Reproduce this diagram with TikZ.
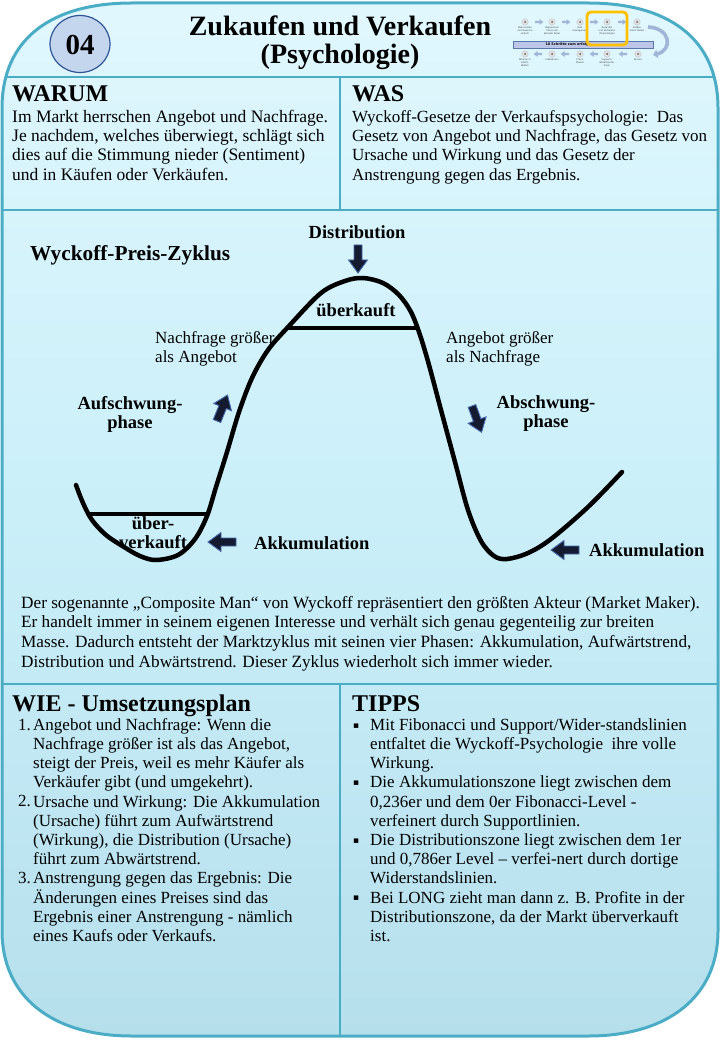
\documentclass[tikz,border=0pt]{standalone}
\usepackage{fontspec}
\setmainfont{Liberation Serif}
\newfontfamily\dejavu{DejaVu Sans}
\usetikzlibrary{arrows.meta}
\definecolor{frameC}{RGB}{75,172,198}
\definecolor{topC}{RGB}{224,247,253}
\definecolor{midC}{RGB}{202,239,249}
\definecolor{botC}{RGB}{182,223,236}
\definecolor{circF}{RGB}{196,214,238}
\definecolor{circD}{RGB}{47,85,151}
\definecolor{arrF}{RGB}{20,26,48}
\definecolor{arrD}{RGB}{70,105,170}
\definecolor{orangeC}{RGB}{255,192,0}
\definecolor{barF}{RGB}{190,198,232}
\definecolor{miniC}{RGB}{160,182,215}
\newcommand\blockarrow[4]{\begin{scope}[shift={(#2)},rotate=#3,scale=#1]
  \path[#4] (0,-4) -- (15,-4) -- (15,-9.5) -- (28,0) -- (15,9.5) -- (15,4) -- (0,4) -- cycle;
\end{scope}}
\tikzset{
  bigarrow/.style={fill=arrF, draw=arrD, line width=0.9pt},
  miniarrow/.style={fill=miniC, draw=none},
  divider/.style={draw=frameC, line width=2.6pt},
  bodytxt/.style={font=\fontsize{17.5}{19.3}\selectfont, align=left, anchor=north west, inner sep=0pt},
  listtxt/.style={font=\fontsize{17}{19.2}\selectfont, align=left, anchor=north west, inner sep=0pt},
  paratxt/.style={font=\fontsize{17.2}{19.7}\selectfont, align=left, anchor=north west, inner sep=0pt},
  headtxt/.style={font=\fontsize{24}{26}\selectfont\bfseries, anchor=base west, inner sep=0pt},
  numtxt/.style={font=\fontsize{17}{19.2}\selectfont, anchor=base west, inner sep=0pt},
  bullettxt/.style={font=\dejavu\fontsize{9}{10}\selectfont, anchor=base west, inner sep=0pt},
  chartlbl/.style={font=\fontsize{18.5}{19}\selectfont\bfseries, inner sep=0pt, align=center},
  chartreg/.style={font=\fontsize{17}{18.5}\selectfont, inner sep=0pt, align=left, anchor=west},
  minilbl/.style={font=\dejavu\fontsize{2.3}{2.8}\selectfont, inner sep=0pt, align=center, anchor=north, text=black!75},
  minicirc/.style={circle, fill=gray!22, draw=gray!55, line width=0.3pt, minimum size=6.5pt, inner sep=0pt},
}
\begin{document}
\begin{tikzpicture}[x=1pt,y=-1pt]
\useasboundingbox (0,0) rectangle (720,1040);
% card background
\path[top color=topC, bottom color=botC, middle color=midC]
  (2,108) .. controls (2,40) and (50,3) .. (132,3) -- (588,3)
  .. controls (670,3) and (718,40) .. (718,108) -- (718,931)
  .. controls (718,995) and (670,1036) .. (588,1036) -- (132,1036)
  .. controls (50,1036) and (2,995) .. (2,931) -- cycle;
\begin{scope}
  \clip (2,108) .. controls (2,40) and (50,3) .. (132,3) -- (588,3)
  .. controls (670,3) and (718,40) .. (718,108) -- (718,931)
  .. controls (718,995) and (670,1036) .. (588,1036) -- (132,1036)
  .. controls (50,1036) and (2,995) .. (2,931) -- cycle;
  \coordinate (s1l) at (0,77); \coordinate (s1r) at (720,77);
  \coordinate (s2l) at (0,210); \coordinate (s2r) at (720,210);
  \coordinate (s3l) at (0,684); \coordinate (s3r) at (720,684);
  \coordinate (v1t) at (340,77); \coordinate (v1b) at (340,210);
  \coordinate (v2t) at (340,684); \coordinate (v2b) at (340,1040);
  \draw[divider] (s1l) -- (s1r);
  \draw[divider] (s2l) -- (s2r);
  \draw[divider] (s3l) -- (s3r);
  \draw[divider] (v1t) -- (v1b);
  \draw[divider] (v2t) -- (v2b);
\end{scope}
\draw[frameC, line width=3pt]
  (2,108) .. controls (2,40) and (50,3) .. (132,3) -- (588,3)
  .. controls (670,3) and (718,40) .. (718,108) -- (718,931)
  .. controls (718,995) and (670,1036) .. (588,1036) -- (132,1036)
  .. controls (50,1036) and (2,995) .. (2,931) -- cycle;

% header
\draw[fill=circF, draw=circD, line width=1.2pt] (80,44) ellipse [x radius=30, y radius=28.5];
\node[font=\fontsize{29}{30}\selectfont\bfseries, inner sep=0pt] (num) at (80,45) {04};
\node[font=\fontsize{28}{25}\selectfont\bfseries, align=center, anchor=north, inner sep=0pt] (title) at (340,16)
  {\strut Zukaufen und Verkaufen\\(Psychologie)};

% mini overview diagram
\draw[fill=barF, draw=circD!80, line width=0.4pt] (513,41) rectangle (653,48);
\node[font=\dejavu\bfseries\fontsize{3.4}{4}\selectfont, inner sep=0pt] (bar) at (567,44.5) {10 Schritte zum erfolg};
\foreach \x/\t [count=\i] in {525/{Ziele setzen\\und Gewinne\\sichern}, 552/{Allgemeiner\\Trend und\\aktuelle News}, 580/{Risk\\management}, 607/{Zukaufen\\und Verkaufen\\(Psychologie)}, 637/{Aufbau\\eines Trades}} {
  \node[minicirc] (tc\i) at (\x,22) {};
  \fill[gray!70!black] (\x,22) circle (1);
  \node[minilbl] (tl\i) at (\x,27) {\t};
}
\foreach \x/\t [count=\i] in {525/{Fibonacci /\\Elliott-\\Wellen}, 552/{Indikatoren}, 580/{Chart-\\Muster}, 607/{Support /\\Widerstands-\\linien}, 638/{Kerzen}} {
  \node[minicirc] (bc\i) at (\x,54) {};
  \fill[gray!70!black] (\x,54) circle (1);
  \node[minilbl] (bl\i) at (\x,59) {\t};
}
\foreach \x in {535,562,590,618} { \blockarrow{0.3}{\x,22}{0}{miniarrow} }
\foreach \x in {542,569,598,627} { \blockarrow{0.3}{\x,54}{180}{miniarrow} }
\coordinate (ca1) at (648,27); \coordinate (ca2) at (653,55);
\draw[miniC, line width=3.6pt, -{Triangle[length=4.5pt,width=8.5pt]}] (ca1) .. controls (671,28) and (673,50) .. (ca2);
\draw[orangeC, line width=2.8pt, rounded corners=4pt] (587,12) rectangle (627,45);

% WARUM / WAS
\node[headtxt] (warum) at (12,102) {WARUM};
\node[bodytxt] (warumtxt) at (12,108.5) {\strut Im Markt herrschen Angebot und Nachfrage.\\Je nachdem, welches überwiegt, schlägt sich\\dies auf die Stimmung nieder (Sentiment)\\und in Käufen oder Verkäufen.};
\node[headtxt] (was) at (352,102) {WAS};
\node[bodytxt, font=\fontsize{17}{19.3}\selectfont] (wastxt) at (352,108.5) {\strut Wyckoff-Gesetze der Verkaufspsychologie:~~Das\\Gesetz von Angebot und Nachfrage, das Gesetz von\\Ursache und Wirkung und das Gesetz der\\Anstrengung gegen das Ergebnis.};

% chart
\node[chartlbl, font=\fontsize{21.3}{22}\selectfont\bfseries, anchor=west] (zyklus) at (30,255) {Wyckoff-Preis-Zyklus};
\node[chartlbl] (distr) at (357,232) {Distribution};
\draw[line width=4.5pt, line join=round, line cap=round] plot[smooth, tension=0.55] coordinates {
 (76,485) (83,503) (92,520) (106,535) (124,547) (140,556) (156,560) (178,555) (195,539) (207,516)
 (216,487) (227,452) (239,412) (252,378) (268,350) (289,326) (321,293) (345,281) (363,278) (383,283)
 (399,295) (411,312) (420,335) (429,365) (441,410) (455,462) (468,510) (481,541) (494,556) (507,559)
 (528,553) (551,539) (588,507) (622,472)};
\coordinate (ol) at (289,328); \coordinate (or) at (419,328);
\draw[line width=4pt] (ol) -- (or);
\coordinate (ul) at (87,514); \coordinate (ur) at (209,514);
\draw[line width=4pt] (ul) -- (ur);
\node[chartlbl] (ueberk) at (356,310) {überkauft};
\node[chartreg] (nachfr) at (155,349) {Nachfrage größer\\als Angebot};
\node[chartreg] (angeb) at (446,349) {Angebot größer\\als Nachfrage};
\node[chartlbl] (aufschw) at (130,414) {Aufschwung-\\phase};
\node[chartlbl] (abschw) at (546,414) {Abschwung-\\phase};
\node[chartlbl] (ueberv) at (153,533) {über-\\verkauft};
\node[chartlbl, anchor=west] (akk1) at (254,543) {Akkumulation};
\node[chartlbl, anchor=west] (akk2) at (589,550) {Akkumulation};
\blockarrow{1}{358,245}{-90}{bigarrow}
\blockarrow{1}{217,421}{68}{bigarrow}
\blockarrow{1}{472,406}{-70}{bigarrow}
\blockarrow{1}{236,542}{180}{bigarrow}
\blockarrow{1}{579,550}{180}{bigarrow}

% paragraph
\node[paratxt] (para) at (21,594.2) {\strut Der sogenannte „Composite Man“ von Wyckoff repräsentiert den größten Akteur (Market Maker).\\Er handelt immer in seinem eigenen Interesse und verhält sich genau gegenteilig zur breiten\\Masse. Dadurch entsteht der Marktzyklus mit seinen vier Phasen: Akkumulation, Aufwärtstrend,\\Distribution und Abwärtstrend. Dieser Zyklus wiederholt sich immer wieder.};

% WIE
\node[headtxt] (wie) at (12,711) {WIE - Umsetzungsplan};
\node[numtxt] (n1) at (18,730) {1.};
\node[numtxt] (n2) at (18,806.8) {2.};
\node[numtxt] (n3) at (18,883.6) {3.};
\node[listtxt] (wietxt) at (33,716.6) {\strut Angebot und Nachfrage: Wenn die\\Nachfrage größer ist als das Angebot,\\steigt der Preis, weil es mehr Käufer als\\Verkäufer gibt (und umgekehrt).\\Ursache und Wirkung: Die Akkumulation\\(Ursache) führt zum Aufwärtstrend\\(Wirkung), die Distribution (Ursache)\\führt zum Abwärtstrend.\\Anstrengung gegen das Ergebnis: Die\\Änderungen eines Preises sind das\\Ergebnis einer Anstrengung - nämlich\\eines Kaufs oder Verkaufs.};

% TIPPS
\node[headtxt] (tipps) at (352,711) {TIPPS};
\node[bullettxt] (b1) at (353,728) {▪};
\node[bullettxt] (b2) at (353,785.6) {▪};
\node[bullettxt] (b3) at (353,843.2) {▪};
\node[bullettxt] (b4) at (353,900.8) {▪};
\node[listtxt] (tippstxt) at (370,716.6) {\strut Mit Fibonacci und Support/Wider-standslinien\\entfaltet die Wyckoff-Psychologie~ ihre volle\\Wirkung.\\Die Akkumulationszone liegt zwischen dem\\0,236er und dem 0er Fibonacci-Level -\\verfeinert durch Supportlinien.\\Die Distributionszone liegt zwischen dem 1er\\und 0,786er Level – verfei-nert durch dortige\\Widerstandslinien.\\Bei LONG zieht man dann z. B. Profite in der\\Distributionszone, da der Markt überverkauft\\ist.};
\end{tikzpicture}
\end{document}
